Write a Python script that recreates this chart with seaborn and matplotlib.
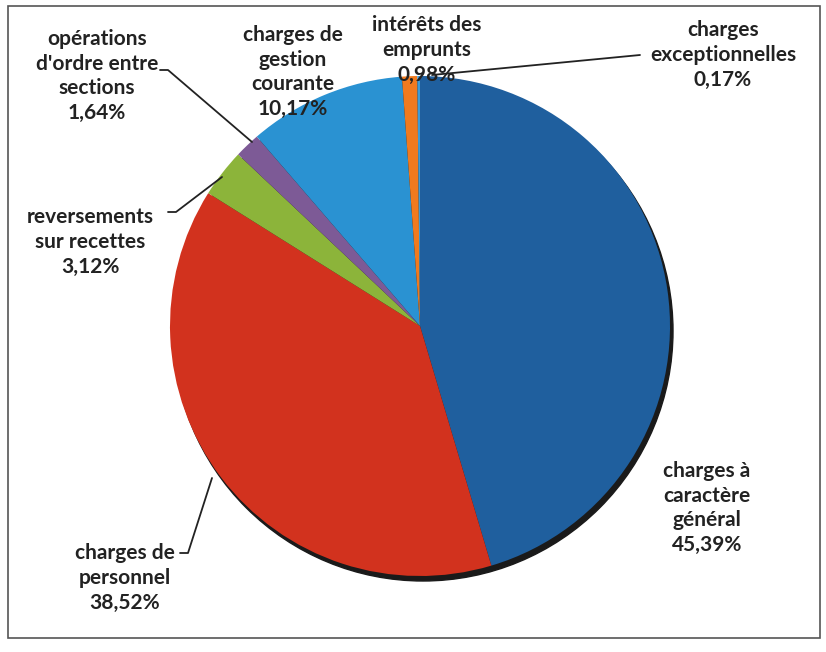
import matplotlib
matplotlib.use("Agg")
import matplotlib.pyplot as plt
import seaborn as sns
from matplotlib.patches import Circle, Rectangle

categories = [
    "charges à\ncaractère\ngénéral",
    "charges de\npersonnel",
    "reversements\nsur recettes",
    "opérations\nd'ordre entre\nsections",
    "charges de\ngestion\ncourante",
    "intérêts des\nemprunts",
    "charges\nexceptionnelles",
]
shares = [45.39, 38.52, 3.12, 1.64, 10.17, 0.98, 0.17]
colors = ["#1f5f9e", "#d2321e", "#8cb43a", "#7d5a96", "#2a92d2", "#f07a1e", "#3a9bd8"]

sns.set_theme(style="white")
plt.rcParams["font.family"] = ["Lato", "DejaVu Sans"]

fig = plt.figure(figsize=(8.26, 6.52), dpi=100)
ax = fig.add_axes([0, 0, 1, 1])

cx, cy, r = 420, 326, 250

# shadow under the pie
ax.add_patch(Circle((cx + 3, cy + 5), r, color="#1a1a1a", zorder=1))

# y axis is inverted below, so data-counterclockwise reads clockwise on screen
wedges, _ = ax.pie(
    shares, colors=colors, startangle=-90, counterclock=True,
    center=(cx, cy), radius=r, frame=True,
    wedgeprops=dict(linewidth=0, zorder=2),
)
ax.set_xlim(0, 826)
ax.set_ylim(652, 0)
ax.set_aspect("equal")
ax.axis("off")

def fmt(v):
    return f"{v:.2f}".replace(".", ",") + "%"

label_pos = [(707, 508), (125, 578), (90, 242), (97, 76), (293, 72), (427, 50), (723, 55)]
for name, v, (x, y) in zip(categories, shares, label_pos):
    ax.text(x, y, f"{name}\n{fmt(v)}", ha="center", va="center",
            fontsize=15, fontweight="bold", color="#222222",
            linespacing=1.3, zorder=5)

# leader lines
lines = [
    [(160, 70), (168, 70), (252, 142)],
    [(168, 212), (176, 212), (222, 177)],
    [(180, 553), (188, 553), (212, 478)],
    [(640, 55), (432, 75)],
]
for pts in lines:
    xs, ys = zip(*pts)
    ax.plot(xs, ys, color="#222222", lw=1.3, zorder=4)

ax.add_patch(Rectangle((8, 6), 812, 632, fill=False, edgecolor="#555555", lw=1.2, zorder=6))

fig.savefig("out.png", dpi=100)
